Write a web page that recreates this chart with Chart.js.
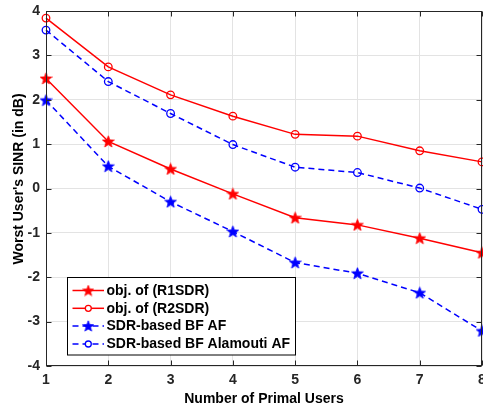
<!DOCTYPE html>
<html><head><meta charset="utf-8">
<script src="https://cdn.jsdelivr.net/npm/chart.js@4/dist/chart.umd.min.js"></script>
<style>html,body{margin:0;padding:0;background:#fff}canvas{display:block}</style>
</head><body>
<canvas id="c" width="483" height="406"></canvas>
<script>
const users = [1, 2, 3, 4, 5, 6, 7, 8];
const r1sdr = [2.48, 1.06, 0.44, -0.12, -0.66, -0.82, -1.12, -1.45];
const r2sdr = [3.84, 2.74, 2.11, 1.63, 1.22, 1.18, 0.85, 0.60];
const sdrAF = [1.99, 0.50, -0.30, -0.97, -1.67, -1.91, -2.35, -3.21];
const alamoutiAF = [3.57, 2.41, 1.69, 0.99, 0.48, 0.36, 0.01, -0.47];
const yTicks = [-4, -3, -2, -1, 0, 1, 2, 3, 4];
const seriesNames = ['obj. of (R1SDR)', 'obj. of (R2SDR)', 'SDR-based BF AF', 'SDR-based BF Alamouti AF'];
const xTitle = 'Number of Primal Users';
const yTitle = "Worst User's SINR (in dB)";

const RED = '#ff0000', BLUE = '#0000ff', AX = '#262626';
const FAM = '"Liberation Sans", Arial, sans-serif';
const FONT = 'bold 14px ' + FAM;

function starImg(color, size) {
  const c = document.createElement('canvas');
  c.width = size; c.height = size;
  const g = c.getContext('2d');
  const cx = size / 2, cy = size / 2 + 0.5, R = size / 2 - 0.3, r = R * 0.42;
  g.beginPath();
  for (let i = 0; i < 10; i++) {
    const ang = -Math.PI / 2 + i * Math.PI / 5;
    const rad = i % 2 === 0 ? R : r;
    const px = cx + rad * Math.cos(ang), py = cy + rad * Math.sin(ang);
    i === 0 ? g.moveTo(px, py) : g.lineTo(px, py);
  }
  g.closePath();
  g.fillStyle = color; g.fill();
  g.strokeStyle = color; g.lineWidth = 0.8; g.stroke();
  return c;
}
const redStar = starImg(RED, 13), blueStar = starImg(BLUE, 13);
const redStarL = starImg(RED, 12), blueStarL = starImg(BLUE, 12);

function pts(arr) { return users.map((u, i) => ({ x: u, y: arr[i] })); }

const datasets = [
  { label: seriesNames[0], data: pts(r1sdr), borderColor: RED, borderWidth: 1.5,
    pointStyle: redStar, pointRadius: 6, legendMarker: redStarL, dash: [] },
  { label: seriesNames[1], data: pts(r2sdr), borderColor: RED, borderWidth: 1.5,
    pointStyle: 'circle', pointRadius: 3.8, pointBorderWidth: 1.3, pointBorderColor: RED,
    pointBackgroundColor: 'rgba(0,0,0,0)', dash: [] },
  { label: seriesNames[2], data: pts(sdrAF), borderColor: BLUE, borderWidth: 1.5, borderDash: [6, 4],
    pointStyle: blueStar, pointRadius: 6, legendMarker: blueStarL, dash: [6, 4] },
  { label: seriesNames[3], data: pts(alamoutiAF), borderColor: BLUE, borderWidth: 1.5, borderDash: [6, 4],
    pointStyle: 'circle', pointRadius: 3.8, pointBorderWidth: 1.3, pointBorderColor: BLUE,
    pointBackgroundColor: 'rgba(0,0,0,0)', dash: [6, 4] }
].map(d => Object.assign({ fill: false, tension: 0, clip: false, pointHoverRadius: d.pointRadius }, d));

const decor = {
  id: 'decor',
  afterDraw(chart) {
    const { ctx, chartArea: a, scales: { x, y } } = chart;
    ctx.save();
    const L = Math.round(a.left) + 0.5, R = Math.round(a.right) - 0.5;
    const T = Math.round(a.top) + 0.5, B = Math.round(a.bottom) - 0.5;
    ctx.strokeStyle = AX; ctx.lineWidth = 1; ctx.setLineDash([]);
    ctx.beginPath();
    users.forEach(v => {
      const p = Math.round(x.getPixelForValue(v)) + 0.5;
      ctx.moveTo(p, B); ctx.lineTo(p, B - 5);
      ctx.moveTo(p, T); ctx.lineTo(p, T + 5);
    });
    yTicks.forEach(v => {
      const p = Math.round(y.getPixelForValue(v)) + 0.5;
      ctx.moveTo(L, p); ctx.lineTo(L + 5, p);
      ctx.moveTo(R, p); ctx.lineTo(R - 5, p);
    });
    ctx.stroke();
    ctx.strokeRect(L, T, R - L, B - T);
    ctx.fillStyle = '#000'; ctx.font = FONT;
    ctx.textAlign = 'center'; ctx.textBaseline = 'middle';
    ctx.fillText(xTitle, (a.left + a.right) / 2, 399);
    ctx.save();
    ctx.translate(19, 179); ctx.rotate(-Math.PI / 2);
    ctx.fillText(yTitle, 0, 0);
    ctx.restore();
    const bx = 67.5, by = 277.5, bw = 228, bh = 77.5;
    ctx.fillStyle = '#fff'; ctx.fillRect(bx, by, bw, bh);
    ctx.strokeStyle = '#000'; ctx.lineWidth = 1; ctx.strokeRect(bx, by, bw, bh);
    const rows = [290.5, 308.3, 326, 344];
    chart.data.datasets.forEach((d, i) => {
      const ry = rows[i];
      ctx.strokeStyle = d.borderColor; ctx.lineWidth = 1.5; ctx.setLineDash(d.dash);
      ctx.beginPath(); ctx.moveTo(72.5, ry); ctx.lineTo(104, ry); ctx.stroke();
      ctx.setLineDash([]);
      if (d.legendMarker) {
        const m = d.legendMarker;
        ctx.drawImage(m, 88.3 - m.width / 2, ry - m.height / 2);
      } else {
        ctx.fillStyle = '#fff';
        ctx.beginPath(); ctx.arc(88.3, ry, 3, 0, Math.PI * 2); ctx.fill();
        ctx.lineWidth = 1.3; ctx.strokeStyle = d.borderColor; ctx.stroke();
      }
      ctx.fillStyle = '#000'; ctx.font = FONT;
      ctx.textAlign = 'left'; ctx.textBaseline = 'middle';
      ctx.fillText(d.label, 106.5, ry + 0.5);
    });
    ctx.restore();
  }
};

new Chart(document.getElementById('c'), {
  type: 'line',
  data: { datasets },
  options: {
    responsive: false,
    animation: false,
    devicePixelRatio: 1,
    layout: { autoPadding: false, padding: { left: 0, right: 1, top: 11, bottom: 0 } },
    plugins: { legend: { display: false }, tooltip: { enabled: false } },
    scales: {
      x: {
        type: 'linear', min: 1, max: 8,
        afterFit(s) { s.height = 40; s.paddingLeft = 0; s.paddingRight = 0; },
        afterBuildTicks(s) { s.ticks = users.map(v => ({ value: v })); },
        grid: { color: '#e3e3e3', lineWidth: 1, drawTicks: false },
        border: { display: false },
        ticks: { color: AX, font: { family: FAM, size: 14, weight: 'bold' }, padding: 6, maxRotation: 0 }
      },
      y: {
        type: 'linear', min: -4, max: 4,
        afterFit(s) { s.width = 46; s.paddingTop = 0; s.paddingBottom = 0; },
        afterBuildTicks(s) { s.ticks = yTicks.map(v => ({ value: v })); },
        grid: { color: '#e3e3e3', lineWidth: 1, drawTicks: false },
        border: { display: false },
        ticks: { color: AX, font: { family: FAM, size: 14, weight: 'bold' }, padding: 6 }
      }
    }
  },
  plugins: [decor]
});
</script>
</body></html>
